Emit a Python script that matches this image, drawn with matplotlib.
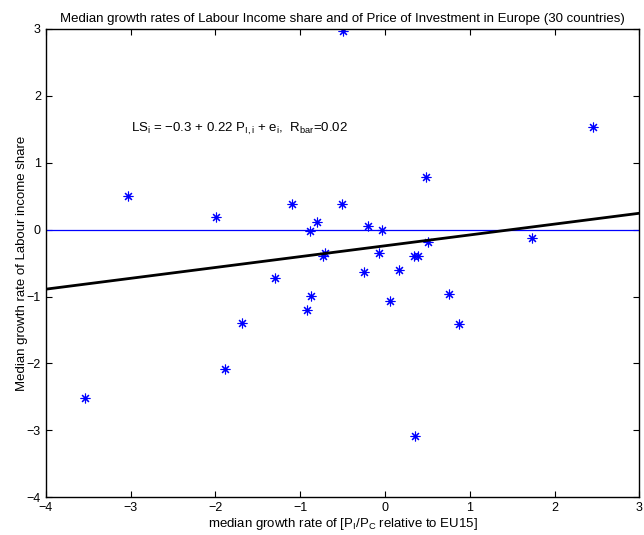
import numpy as np
import matplotlib
matplotlib.use("Agg")
import matplotlib.pyplot as plt

plt.rcParams['font.family'] = ['Liberation Sans', 'DejaVu Sans']
plt.rcParams['mathtext.fontset'] = 'custom'
plt.rcParams['mathtext.rm'] = 'Liberation Sans'
plt.rcParams['mathtext.it'] = 'Liberation Sans'

# median growth rate of relative price of investment (x) and labour share (y)
price_inv = [-0.50, 2.45, -3.03, -1.99, -1.10, -0.51, 0.48, -0.89, -0.80, -0.71,
             -0.73, -0.20, -0.03, -0.07, 0.51, -0.25, 0.16, 0.34, 0.39, 1.73,
             -1.30, -0.87, -0.92, 0.06, 0.75, 0.87, -1.69, -1.89, -3.54, 0.35]
labour_share = [2.97, 1.53, 0.51, 0.19, 0.38, 0.38, 0.79, -0.02, 0.12, -0.35,
                -0.40, 0.06, 0.00, -0.35, -0.19, -0.64, -0.61, -0.40, -0.40, -0.12,
                -0.72, -0.99, -1.20, -1.07, -0.96, -1.41, -1.40, -2.09, -2.51, -3.09]

# fitted line over the x range
fit_x = [-4, 3]
fit_y = [-0.89, 0.245]

fig = plt.figure(figsize=(6.44, 5.35), dpi=100)
ax = fig.add_axes([0.071, 0.0705, 0.922, 0.8755])

ax.axhline(0, color='blue', linewidth=0.9)
# asterisk markers (plus and cross combined)
ax.plot(price_inv, labour_share, linestyle='none', marker=(8, 2, 0), color='blue',
        markersize=7, markeredgewidth=0.8)
ax.plot(fit_x, fit_y, color='black', linewidth=2)

ax.text(-3.0, 1.5, r'LS$_{\rm i}$ = $-$0.3 + 0.22 P$_{\rm I,i}$ + e$_{\rm i}$,  R$_{\rm bar}$=0.02',
        fontsize=9.5, va='center', ha='left')

ax.set_xlim(-4, 3)
ax.set_ylim(-4, 3)
ax.set_xticks(range(-4, 4))
ax.set_yticks(range(-4, 4))
ax.tick_params(direction='in', length=4.5, width=0.8, top=True, right=True, labelsize=9)
for s in ax.spines.values():
    s.set_linewidth(1.0)

ax.set_title('Median growth rates of Labour Income share and of Price of Investment in Europe (30 countries)',
             fontsize=9.5, pad=5)
ax.set_xlabel(r'median growth rate of [P$_{\rm I}$/P$_{\rm C}$ relative to EU15]', fontsize=9.5, labelpad=1)
ax.set_ylabel('Median growth rate of Labour income share', fontsize=9.5, labelpad=-1)

fig.savefig('out.png', dpi=100)
